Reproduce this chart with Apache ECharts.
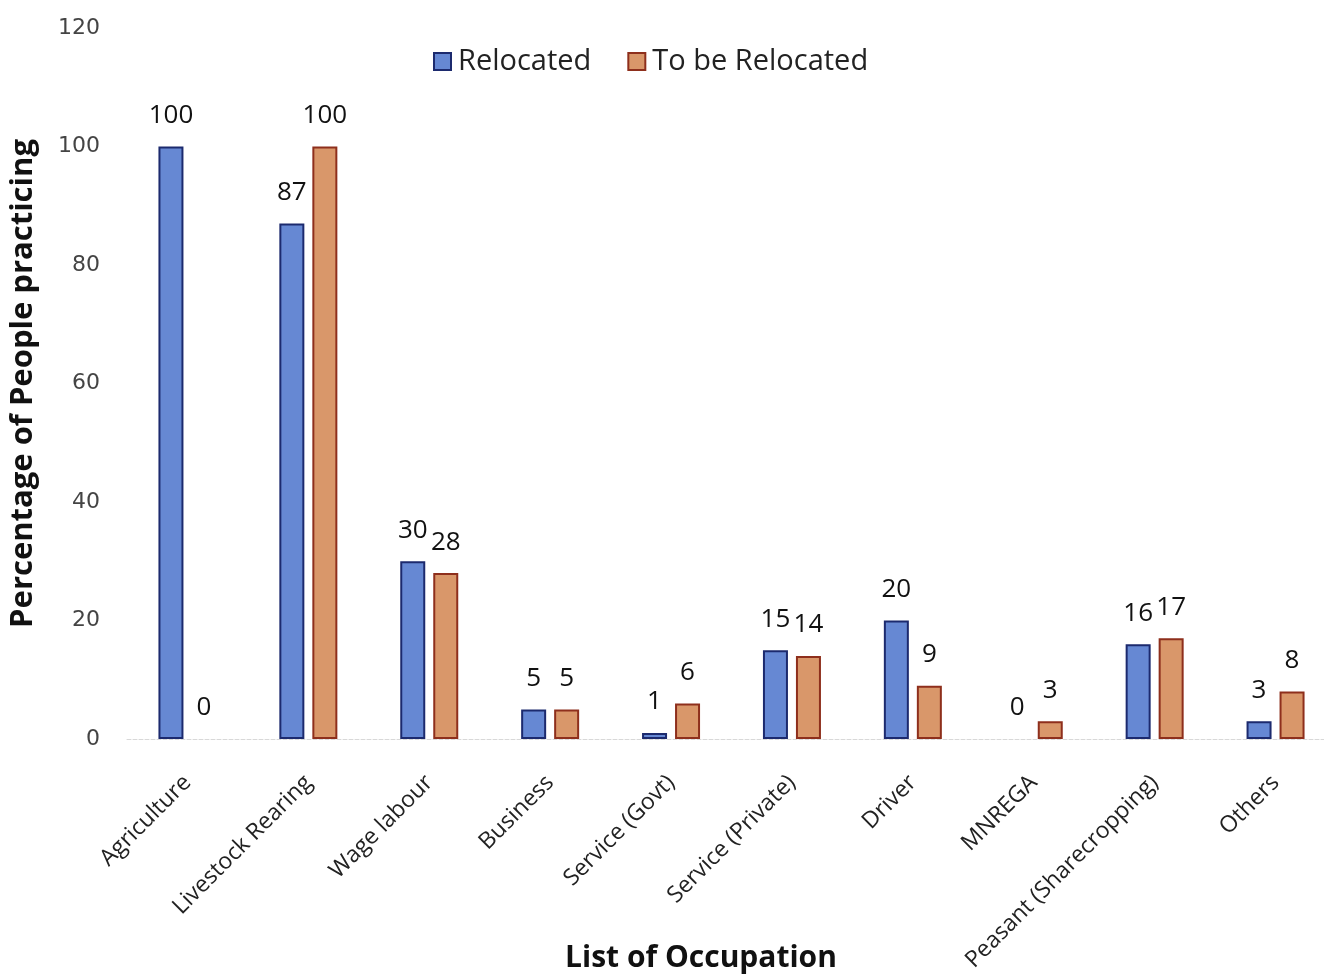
<!DOCTYPE html>
<html>
<head>
<meta charset="utf-8">
<script src="https://cdn.jsdelivr.net/npm/echarts@6/dist/echarts.min.js"></script>
<style>
  html, body { margin: 0; padding: 0; background: #ffffff; overflow: hidden; }
  #chart { width: 1324px; height: 974px; }
</style>
</head>
<body>
<div id="chart"></div>
<script>
// Occupation categories on the x axis
const categories = [
  'Agriculture', 'Livestock Rearing', 'Wage labour', 'Business', 'Service (Govt)',
  'Service (Private)', 'Driver', 'MNREGA', 'Peasant (Sharecropping)', 'Others'
];
// Percentage of people practicing each occupation
const relocated = [100, 87, 30, 5, 1, 15, 20, 0, 16, 3];
const toBeRelocated = [0, 100, 28, 5, 6, 14, 9, 3, 17, 8];
// Value axis ticks
const yTicks = [0, 20, 40, 60, 80, 100, 120];

const font = '"Open Sans", "Noto Sans", sans-serif';

// Zero values keep their "0" label but get no outline on the baseline
const toBarData = values => values.map(v => (v === 0 ? { value: v, itemStyle: { borderWidth: 0 } } : v));

const chart = echarts.init(document.getElementById('chart'), null, { renderer: 'canvas' });

const labelStyle = {
  show: true,
  position: 'top',
  distance: 18,
  fontFamily: font,
  fontSize: 26,
  color: '#111111'
};

chart.setOption({
  backgroundColor: '#ffffff',
  animation: false,
  legend: {
    top: 42,
    left: 428,
    icon: 'rect',
    itemWidth: 17,
    itemHeight: 17,
    itemGap: 36,
    textStyle: { fontFamily: font, fontSize: 29, color: '#222222', padding: [0, 0, 0, 2] },
    data: ['Relocated', 'To be Relocated']
  },
  grid: { left: 127, right: -12, top: 28, bottom: 235, containLabel: false, outerBoundsMode: 'none' },
  xAxis: {
    type: 'category',
    data: categories,
    axisLine: { show: true, lineStyle: { color: '#d8d8d8', width: 1, type: 'dashed' } },
    axisTick: { show: false },
    axisLabel: {
      rotate: 45,
      interval: 0,
      margin: 40,
      fontFamily: font,
      fontSize: 23,
      color: '#222222'
    }
  },
  yAxis: {
    type: 'value',
    min: yTicks[0],
    max: yTicks[yTicks.length - 1],
    interval: 20,
    name: 'Percentage of People practicing',
    nameLocation: 'middle',
    nameGap: 88,
    nameRotate: 90,
    nameTextStyle: { fontFamily: font, fontSize: 31, fontWeight: 'bold', color: '#111111' },
    axisLine: { show: false },
    axisTick: { show: false },
    splitLine: { show: false },
    axisLabel: {
      margin: 27,
      fontFamily: '"DejaVu Sans", sans-serif',
      fontSize: 22,
      color: '#444444'
    }
  },
  graphic: [
    {
      type: 'text',
      x: 701,
      y: 958,
      style: {
        text: 'List of Occupation',
        fontFamily: font,
        fontSize: 30,
        fontWeight: 'bold',
        fill: '#111111',
        align: 'center',
        verticalAlign: 'middle'
      }
    }
  ],
  series: [
    {
      name: 'Relocated',
      type: 'bar',
      data: toBarData(relocated),
      barWidth: 25,
      barGap: '32%',
      itemStyle: { color: '#6688d3', borderColor: '#1c2a6e', borderWidth: 2 },
      label: labelStyle
    },
    {
      name: 'To be Relocated',
      type: 'bar',
      data: toBarData(toBeRelocated),
      barWidth: 25,
      itemStyle: { color: '#d9976a', borderColor: '#8e2f1c', borderWidth: 2 },
      label: labelStyle
    }
  ]
});
</script>
</body>
</html>
